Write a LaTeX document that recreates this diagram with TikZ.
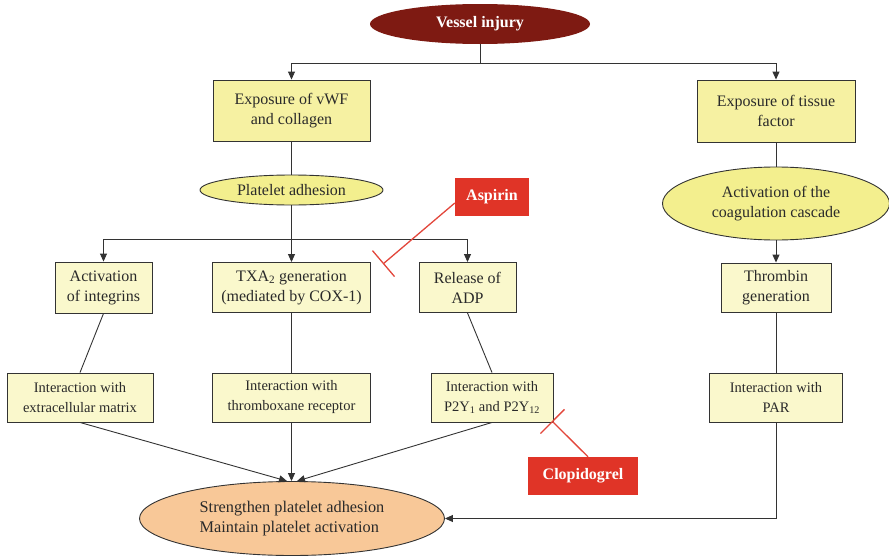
\documentclass[tikz,border=0pt]{standalone}
\usepackage{fontspec}
\setmainfont{Liberation Serif}
\usetikzlibrary{arrows.meta,shapes.geometric}
\definecolor{darkred}{HTML}{7E1A12}
\definecolor{topc}{HTML}{F6F1A2}
\definecolor{lowc}{HTML}{FAF8CC}
\definecolor{ellc}{HTML}{F3EF8E}
\definecolor{peach}{HTML}{F8C898}
\definecolor{drugred}{HTML}{E03427}
\definecolor{inhred}{HTML}{E2463B}
\definecolor{txt}{HTML}{2A2A2A}
\definecolor{linec}{HTML}{333333}
\tikzset{
  base/.style={draw=linec, line width=0.9pt, align=center, inner sep=0pt, text=txt,
    font=\fontsize{16}{20}\selectfont},
  topbox/.style={base, rectangle, fill=topc},
  lowbox/.style={base, rectangle, fill=lowc},
  smallbox/.style={base, rectangle, fill=lowc, font=\fontsize{14.5}{20}\selectfont},
  yell/.style={base, ellipse, fill=ellc},
  drug/.style={rectangle, fill=drugred, text=white, inner sep=0pt,
    font=\fontsize{16}{20}\selectfont\bfseries},
  conn/.style={draw=linec, line width=0.9pt},
  arr/.style={conn, -{Triangle[length=8pt,width=7pt]}},
  inh/.style={draw=inhred, line width=1.3pt, -{Bar[width=34pt]}},
}
\begin{document}
\begin{tikzpicture}[x=1pt,y=-1pt]
\useasboundingbox (0,0) rectangle (889,557);
% nodes
\node[ellipse, fill=darkred, text=white, inner sep=0pt, minimum width=220, minimum height=40,
  font=\fontsize{16}{20}\selectfont\bfseries] (vessel) at (480,24) {Vessel injury};
\node[topbox, minimum width=157, minimum height=61] (vwf) at (291.5,110.5) {Exposure of vWF\\and collagen};
\node[topbox, minimum width=158, minimum height=62] (tf) at (776,111) {Exposure of tissue\\factor};
\node[yell, minimum width=183, minimum height=30] (pa) at (291.5,190) {Platelet adhesion};
\node[yell, minimum width=227, minimum height=73] (coag) at (776,203.5) {Activation of the\\coagulation cascade};
\node[lowbox, minimum width=97, minimum height=51] (integ) at (103.5,287.5) {Activation\\of integrins};
\node[lowbox, minimum width=158, minimum height=50] (txa) at (291.5,287.5) {TXA\textsubscript{2} generation\\(mediated by COX-1)};
\node[lowbox, minimum width=97, minimum height=50] (adp) at (467.5,287.5) {Release of\\ADP};
\node[lowbox, minimum width=110, minimum height=49] (thr) at (776,287.5) {Thrombin\\generation};
\node[smallbox, minimum width=146, minimum height=49] (ecm) at (80,397.5) {Interaction with\\extracellular matrix};
\node[smallbox, minimum width=158, minimum height=49] (txr) at (291.5,397.5) {Interaction with\\thromboxane receptor};
\node[smallbox, minimum width=122, minimum height=49] (p2y) at (492,397.5) {Interaction with\\P2Y\textsubscript{1} and P2Y\textsubscript{12}};
\node[smallbox, minimum width=133, minimum height=49] (par) at (776,397.5) {Interaction with\\PAR};
\node[base, ellipse, fill=peach, minimum width=305, minimum height=74, align=left,
  font=\fontsize{16.3}{20}\selectfont] (out) at (292,518.5) {Strengthen platelet adhesion\\Maintain platelet activation};
\node[drug, minimum width=74, minimum height=38] (asp) at (492,197) {Aspirin};
\node[drug, minimum width=110, minimum height=38] (clo) at (583,476) {Clopidogrel};
% connectors
\coordinate (j1) at (480,63);
\coordinate (j2) at (291.5,239);
\coordinate (aspT) at (383,264);
\coordinate (cloT) at (552,421);
\draw[conn] (vessel.south) -- (j1);
\draw[arr] (j1) -| (vwf.north);
\draw[arr] (j1) -| (tf.north);
\draw[conn] (vwf) -- (pa);
\draw[conn] (tf) -- (coag);
\draw[arr] (coag) -- (thr);
\draw[conn] (pa) -- (j2);
\draw[arr] (j2) -| (integ.north);
\draw[arr] (j2) -- (txa);
\draw[arr] (j2) -| (adp.north);
\draw[conn] (integ.south) -- (ecm.north);
\draw[conn] (txa) -- (txr);
\draw[conn] (adp.south) -- (p2y.north);
\draw[conn] (thr) -- (par);
\draw[arr] (ecm.south) -- ([xshift=-5pt]out.north);
\draw[arr] (txr.south) -- (txr.south |- out.north);
\draw[arr] (p2y.south) -- ([xshift=5pt]out.north);
\draw[arr] (par.south) |- (out.east);
\draw[inh] ([yshift=-6pt]asp.west) -- (aspT);
\draw[inh] ([xshift=5pt]clo.north) -- (cloT);
\end{tikzpicture}
\end{document}
